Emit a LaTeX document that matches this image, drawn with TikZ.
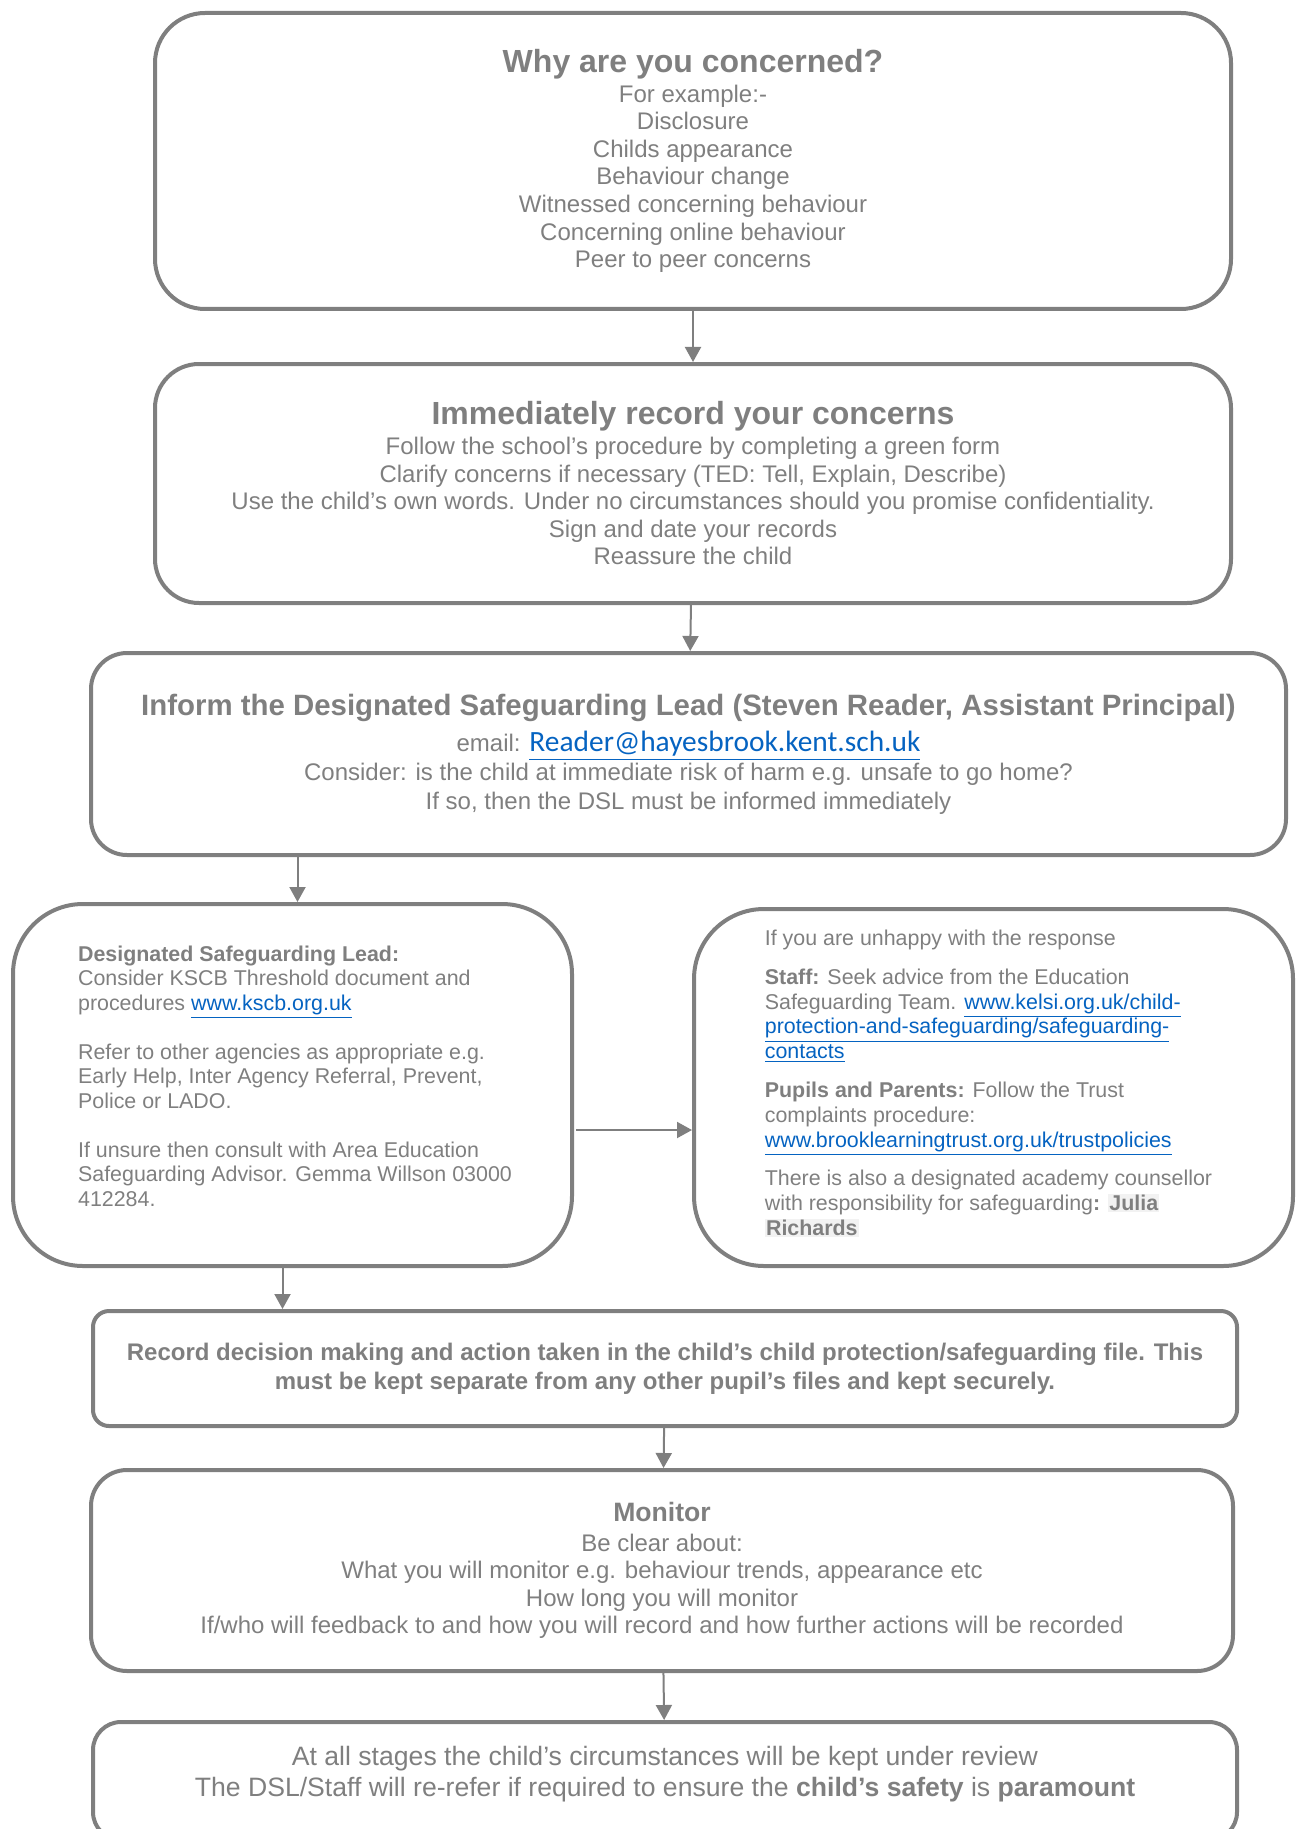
\documentclass[tikz,border=0pt]{standalone}
\usepackage{fontspec}
\setmainfont{Liberation Sans}
\newfontfamily\mailfont{Carlito}
\usetikzlibrary{arrows.meta}
\definecolor{Slate}{HTML}{7F7F7F}
\definecolor{Link}{HTML}{0563C1}
\definecolor{Haze}{HTML}{F2F2F2}
\newcommand\weblink[1]{{\color{Link}\underline{#1}}}
\newcommand\hilite[1]{{\setlength{\fboxsep}{0.6pt}\colorbox{Haze}{#1}}}
\newcommand\headfont{\fontsize{16}{18}\selectfont\bfseries}

\begin{document}
\begin{tikzpicture}[x=0.5pt,y=-0.5pt,
    flowbox/.style={draw=Slate,line width=2pt,text=Slate,align=center,inner sep=0pt},
    flowtext/.style={text=Slate,align=left,inner sep=0pt},
    flowarrow/.style={draw=Slate,line width=1pt,-{Triangle[length=7.5pt,width=8pt]}}]
  \useasboundingbox (0,0) rectangle (1295,1829);

  \node[flowbox,rounded corners=25pt,minimum width=538pt,minimum height=148pt,
    font=\fontsize{12}{13.8}\selectfont] (why) at (693,161)
    {{\headfont Why are you concerned?}\\[1pt]
     For example:-\\ Disclosure\\ Childs appearance\\ Behaviour change\\
     Witnessed concerning behaviour\\ Concerning online behaviour\\ Peer to peer concerns};

  \node[flowbox,rounded corners=22pt,minimum width=538pt,minimum height=119.5pt,
    font=\fontsize{12}{13.8}\selectfont] (record) at (693,483.5)
    {{\headfont Immediately record your concerns}\\[1pt]
     Follow the school’s procedure by completing a green form\\
     Clarify concerns if necessary (TED: Tell, Explain, Describe)\\
     Use the child’s own words. Under no circumstances should you promise confidentiality.\\
     Sign and date your records\\ Reassure the child};

  \node[flowbox,rounded corners=18pt,minimum width=597.5pt,minimum height=101pt,
    font=\fontsize{12}{14.3}\selectfont] (inform) at (688.5,754)
    {{\fontsize{14.7}{17}\selectfont\bfseries Inform the Designated Safeguarding Lead (Steven Reader, Assistant Principal)}\\[4pt]
     email: {\mailfont\fontsize{14.7}{16}\selectfont\weblink{Reader@hayesbrook.kent.sch.uk}}\\
     Consider: is the child at immediate risk of harm e.g. unsafe to go home?\\
     If so, then the DSL must be informed immediately};

  \node[flowbox,rounded corners=35pt,minimum width=279.5pt,minimum height=181pt] (dsl) at (292.5,1085) {};
  \node[flowtext,font=\fontsize{10.7}{12.25}\selectfont] (dsltext) at (295,1076)
    {\textbf{Designated Safeguarding Lead:}\\
     Consider KSCB Threshold document and\\
     procedures \weblink{www.kscb.org.uk}\\[12.25pt]
     Refer to other agencies as appropriate e.g.\\
     Early Help, Inter Agency Referral, Prevent,\\
     Police or LADO.\\[12.25pt]
     If unsure then consult with Area Education\\
     Safeguarding Advisor. Gemma Willson 03000\\
     412284.};

  \node[flowbox,rounded corners=35pt,minimum width=299.5pt,minimum height=178.5pt] (unhappy) at (993.5,1087.5) {};
  \node[flowtext,font=\fontsize{10.7}{12.4}\selectfont] (unhappytext) at (988.5,1083.5)
    {If you are unhappy with the response\\[7pt]
     \textbf{Staff:} Seek advice from the Education\\
     Safeguarding Team. \weblink{www.kelsi.org.uk/child-}\\
     \weblink{protection-and-safeguarding/safeguarding-}\\
     \weblink{contacts}\\[7pt]
     \textbf{Pupils and Parents:} Follow the Trust\\
     complaints procedure:\\
     \weblink{www.brooklearningtrust.org.uk/trustpolicies}\\[7pt]
     There is also a designated academy counsellor\\
     with responsibility for safeguarding\textbf{: \hilite{Julia}}\\
     \textbf{\hilite{Richards}}};

  \node[flowbox,rounded corners=8pt,minimum width=572pt,minimum height=57.5pt,
    font=\fontsize{12}{14.5}\selectfont\bfseries] (file) at (665,1368.5)
    {Record decision making and action taken in the child’s child protection/safeguarding file. This\\
     must be kept separate from any other pupil’s files and kept securely.};

  \node[flowbox,rounded corners=18pt,minimum width=571pt,minimum height=100.5pt,
    font=\fontsize{12}{13.7}\selectfont] (monitor) at (662,1570.5)
    {{\fontsize{13.3}{15}\selectfont\bfseries Monitor}\\[1pt]
     Be clear about:\\
     What you will monitor e.g. behaviour trends, appearance etc\\
     How long you will monitor\\
     If/who will feedback to and how you will record and how further actions will be recorded};

  \node[flowbox,rounded corners=14pt,minimum width=572pt,minimum height=59pt] (review) at (665,1781) {};
  \node[flowtext,align=center,font=\fontsize{13.3}{15.5}\selectfont] (reviewtext) at (665,1774)
    {At all stages the child’s circumstances will be kept under review\\
     The DSL/Staff will re-refer if required to ensure the \textbf{child’s safety} is \textbf{paramount}};

  \coordinate (sidestart) at (576,1130);

  \draw[flowarrow] (why) -- (record);
  \draw[flowarrow] (record) -- (inform);
  \draw[flowarrow] ([xshift=2.5pt]dsl.north |- inform.south) -- ([xshift=2.5pt]dsl.north);
  \draw[flowarrow] (sidestart) -- (sidestart -| unhappy.west);
  \draw[flowarrow] ([xshift=-5pt]dsl.south) -- ([xshift=-5pt]dsl.south |- file.north);
  \draw[flowarrow] (file) -- (monitor);
  \draw[flowarrow] (monitor) -- (review);
\end{tikzpicture}
\end{document}
